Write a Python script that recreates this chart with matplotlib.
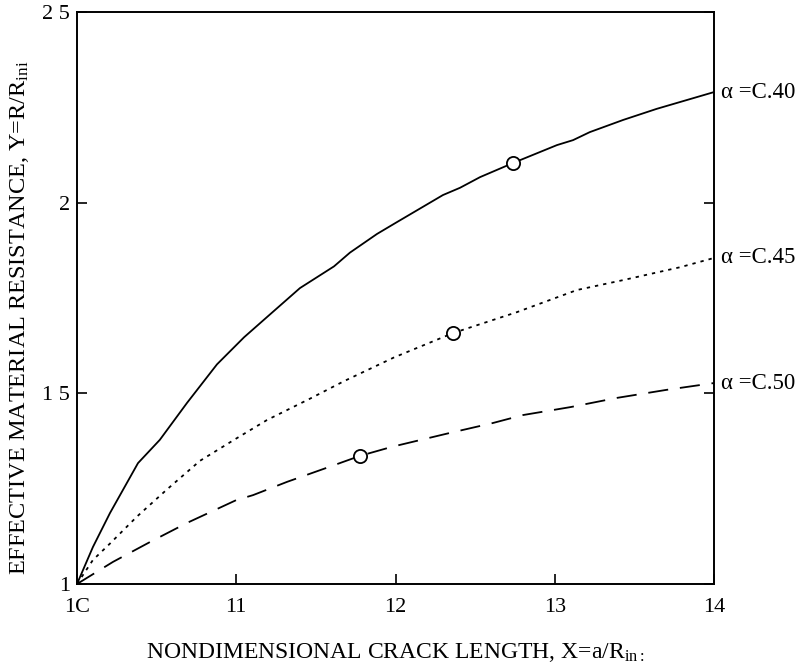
import matplotlib
matplotlib.use("Agg")
import matplotlib.pyplot as plt

plt.rcParams['font.family'] = ['Liberation Serif', 'DejaVu Serif']
plt.rcParams['mathtext.fontset'] = 'custom'
plt.rcParams['mathtext.rm'] = 'Liberation Serif'
plt.rcParams['mathtext.it'] = 'Liberation Serif:italic'
plt.rcParams['lines.scale_dashes'] = False

# ---- data ----
x_040 = [10.0, 10.10, 10.207, 10.383, 10.52, 10.691, 10.879, 11.049, 11.193, 11.400,
         11.614, 11.714, 11.884, 12.009, 12.298, 12.405, 12.531, 12.738, 13.014, 13.115,
         13.22, 13.43, 13.64, 14.0]
y_040 = [1.0, 1.097, 1.186, 1.317, 1.378, 1.475, 1.576, 1.647, 1.700, 1.776,
         1.833, 1.869, 1.918, 1.949, 2.020, 2.039, 2.067, 2.104, 2.151, 2.164,
         2.185, 2.217, 2.246, 2.290]

x_045 = [10.0, 10.10, 10.207, 10.377, 10.565, 10.772, 10.986, 11.193, 11.463, 11.677,
         11.99, 12.361, 12.763, 13.14, 13.43, 13.79, 14.0]
y_045 = [1.0, 1.063, 1.106, 1.177, 1.248, 1.323, 1.378, 1.430, 1.486, 1.532,
         1.594, 1.658, 1.713, 1.771, 1.797, 1.831, 1.855]

x_050 = [10.0, 10.226, 10.458, 10.69, 11.0, 11.105, 11.32, 11.57, 11.777, 11.98,
         12.34, 12.61, 12.80, 13.1, 13.39, 13.70, 14.0]
y_050 = [1.0, 1.058, 1.110, 1.160, 1.220, 1.233, 1.268, 1.305, 1.336, 1.360,
         1.396, 1.422, 1.443, 1.464, 1.488, 1.509, 1.527]

marker_x = [12.738, 12.361, 11.777]
marker_y = [2.104, 1.658, 1.336]

series_labels = ["\u03b1 =C.40", "\u03b1 =C.45", "\u03b1 =C.50"]

x_ticks = [10, 11, 12, 13, 14]
x_ticklabels = ["1C", "11", "12", "13", "14"]
y_ticks = [1, 1.5, 2, 2.5]
y_ticklabels = ["1", "1 5", "2", "2 5"]

xlabel = "NONDIMENSIONAL CRACK LENGTH, X=a/R$_{\\mathrm{in:}}$"
ylabel = "EFFECTIVE MATERIAL RESISTANCE, Y=R/R$_{\\mathrm{ini}}$"

# ---- figure ----
fig = plt.figure(figsize=(8.05, 6.68), dpi=100)
ax = fig.add_axes([77/805, 84/668, (714-77)/805, (584-12)/668])

lw = 1.3
ax.plot(x_040, y_040, color='black', lw=lw, linestyle='-')
ax.plot(x_045, y_045, color='black', lw=lw, linestyle=(0, (2.4, 3.6)))
ax.plot(x_050, y_050, color='black', lw=lw, linestyle=(0, (14.5, 8.5)))
ax.plot(marker_x, marker_y, linestyle='none', marker='o', markersize=9.5,
        markerfacecolor='white', markeredgecolor='black', markeredgewidth=1.3, zorder=5)

ax.set_xlim(10, 14)
ax.set_ylim(1, 2.5)
ax.set_xticks(x_ticks)
ax.set_xticklabels(x_ticklabels)
ax.set_yticks(y_ticks)
ax.set_yticklabels(y_ticklabels)
ax.tick_params(axis='both', direction='in', length=7, width=1.2, labelsize=16)
ax.tick_params(axis='x', pad=10)
ax.tick_params(axis='y', pad=5, right=True)
for s in ax.spines.values():
    s.set_linewidth(1.4)

for lab, yy in zip(series_labels, [y_040[-1], y_045[-1], y_050[-1]]):
    ax.annotate(lab, xy=(14, yy), xytext=(5, 0), textcoords='offset points',
                ha='left', va='center', fontsize=16.5, annotation_clip=False)

ax.set_xlabel(xlabel, fontsize=17, labelpad=17)
ax.set_ylabel(ylabel, fontsize=17.5)
ax.yaxis.set_label_coords(-0.072, 0.465)

fig.savefig("out.png", dpi=100)
